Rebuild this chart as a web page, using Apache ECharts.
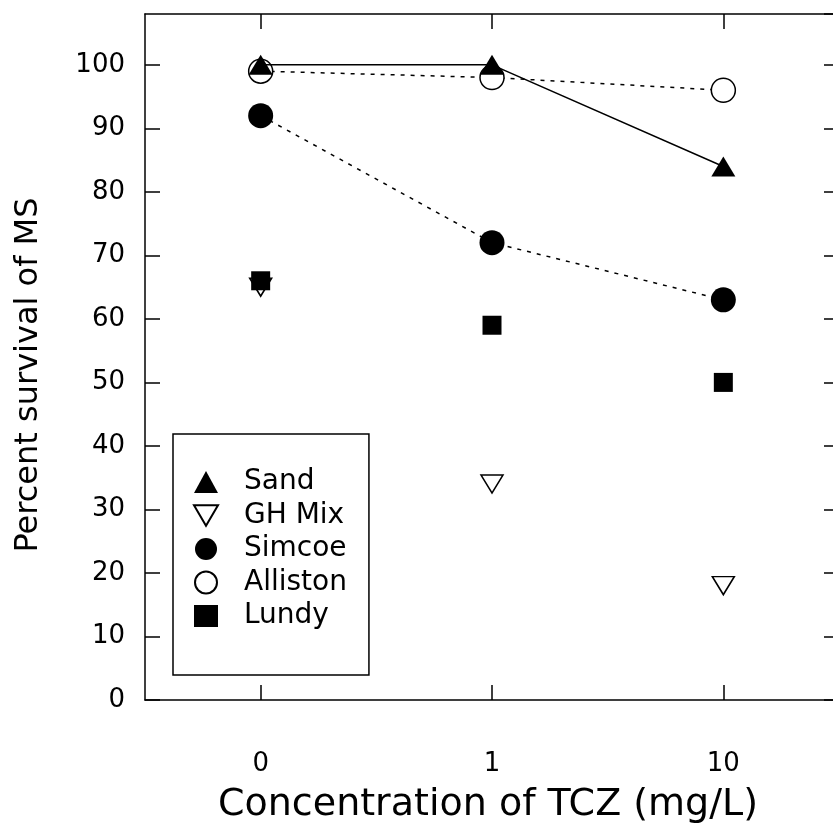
<!DOCTYPE html>
<html>
<head>
<meta charset="utf-8">
<script src="https://cdn.jsdelivr.net/npm/echarts@6/dist/echarts.min.js"></script>
<style>
  html, body { margin: 0; padding: 0; background: #fff; }
  #chart { width: 833px; height: 833px; }
</style>
</head>
<body>
<div id="chart"></div>
<script>
// TCZ concentrations (mg/L) on the x axis
const concentrations = ['0', '1', '10'];

// Percent survival of MS for each soil type
const sand = [100, 100, 84];
const ghMix = [65, 34, 18];
const simcoe = [92, 72, 63];
const alliston = [99, 98, 96];
const lundy = [66, 59, 50];

const FONT = 'DejaVu Sans';
const INK = '#000';

const chart = echarts.init(document.getElementById('chart'), null, { renderer: 'canvas' });

// fresh style objects for every axis so nothing is shared between them
function inwardTicks(extra) {
  return Object.assign({ show: true, inside: true, length: 15, lineStyle: { color: INK, width: 1.5 } }, extra || {});
}
function frameLine() {
  return { show: true, onZero: false, lineStyle: { color: INK, width: 1.5 } };
}

chart.setOption({
  backgroundColor: '#fff',
  animation: false,
  // the frame runs a little past the right edge of the canvas
  grid: { left: 145, width: 694, top: 14, height: 686, containLabel: false, outerBoundsMode: 'none' },
  xAxis: [
    {
      type: 'category',
      data: concentrations,
      position: 'bottom',
      boundaryGap: true,
      axisLine: frameLine(),
      axisTick: inwardTicks({ alignWithLabel: true }),
      axisLabel: { margin: 51, fontFamily: FONT, fontSize: 26, color: INK },
      name: 'Concentration of TCZ (mg/L)',
      nameLocation: 'middle',
      nameGap: 86,
      nameTextStyle: { fontFamily: FONT, fontSize: 38, color: INK, padding: [0, 8, 0, 0] },
      splitLine: { show: false }
    },
    {
      type: 'category',
      data: concentrations,
      position: 'top',
      boundaryGap: true,
      axisLine: frameLine(),
      axisTick: inwardTicks({ alignWithLabel: true }),
      axisLabel: { show: false },
      splitLine: { show: false }
    }
  ],
  yAxis: [
    {
      type: 'value',
      min: 0,
      max: 108,
      interval: 10,
      position: 'left',
      axisLine: frameLine(),
      axisTick: inwardTicks(),
      axisLabel: { margin: 20, fontFamily: FONT, fontSize: 26, color: INK, showMaxLabel: false },
      splitLine: { show: false },
      name: 'Percent survival of MS',
      nameLocation: 'middle',
      nameGap: 100,
      nameTextStyle: { fontFamily: FONT, fontSize: 32, color: INK, padding: [0, 36, 0, 0] }
    },
    {
      type: 'value',
      min: 0,
      max: 108,
      interval: 10,
      position: 'right',
      axisLine: frameLine(),
      axisTick: inwardTicks(),
      axisLabel: { show: false },
      splitLine: { show: false }
    }
  ],
  legend: {
    orient: 'vertical',
    left: 173,
    top: 434,
    padding: [34, 22, 45, 20],
    itemWidth: 24,
    itemHeight: 22,
    itemGap: 5.5,
    borderColor: INK,
    borderWidth: 1.5,
    textStyle: { fontFamily: FONT, fontSize: 28, color: INK, padding: [0, 0, 0, 21] },
    data: [
      { name: 'Sand', icon: 'triangle' },
      { name: 'GH Mix', icon: 'path://M0,0L20,0L10,17Z' },
      { name: 'Simcoe', icon: 'circle' },
      { name: 'Alliston', icon: 'circle' },
      { name: 'Lundy', icon: 'rect' }
    ]
  },
  series: [
    {
      name: 'Sand',
      type: 'line',
      data: sand,
      z: 5,
      symbol: 'triangle',
      symbolSize: [24, 20],
      itemStyle: { color: INK },
      lineStyle: { color: INK, width: 1.5, type: 'solid' }
    },
    {
      name: 'GH Mix',
      type: 'line',
      data: ghMix,
      symbol: 'path://M0,0L20,0L10,17Z',
      symbolSize: [22, 18],
      itemStyle: { color: '#fff', borderColor: INK, borderWidth: 1.5 },
      lineStyle: { width: 0, opacity: 0 }
    },
    {
      name: 'Simcoe',
      type: 'line',
      data: simcoe,
      symbol: 'circle',
      symbolSize: 25,
      itemStyle: { color: INK },
      lineStyle: { color: INK, width: 1.5, type: [4, 6] }
    },
    {
      name: 'Alliston',
      type: 'line',
      data: alliston,
      symbol: 'circle',
      symbolSize: 24,
      itemStyle: { color: '#fff', borderColor: INK, borderWidth: 1.5 },
      lineStyle: { color: INK, width: 1.5, type: [4, 6] }
    },
    {
      name: 'Lundy',
      type: 'line',
      data: lundy,
      z: 4,
      symbol: 'rect',
      symbolSize: 19,
      itemStyle: { color: INK },
      lineStyle: { width: 0, opacity: 0 }
    }
  ]
});
</script>
</body>
</html>
